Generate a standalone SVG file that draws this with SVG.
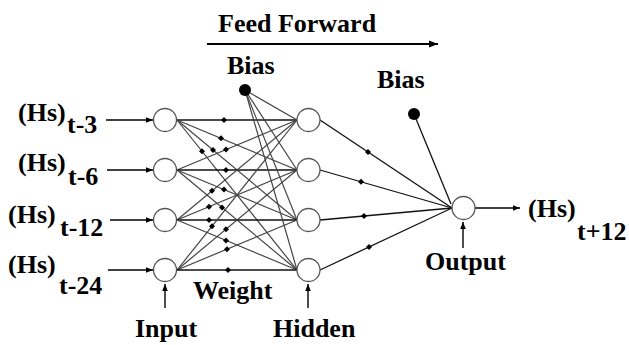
<svg xmlns="http://www.w3.org/2000/svg" xmlns:xlink="http://www.w3.org/1999/xlink" width="629" height="345" viewBox="0 0 629 345">
<style>
text{font-family:'Liberation Serif','Times New Roman','DejaVu Serif',serif;font-weight:bold;font-size:26px;fill:#000}
.node{fill:#fff;stroke:#555;stroke-width:1.3}
.w{stroke:#444;stroke-width:1.2;fill:none}
.h{stroke:#111;stroke-width:1.3;fill:none}
.arr{stroke:#000;stroke-width:1.4;fill:none;marker-end:url(#ah)}
</style>
<defs>
<marker id="ah" viewBox="0 0 10 10" refX="10" refY="5" markerWidth="7" markerHeight="7" markerUnits="userSpaceOnUse" orient="auto"><path d="M0,1 L10,5 L0,9Z" fill="#000"/></marker>
<marker id="ah2" viewBox="0 0 10 10" refX="10" refY="5" markerWidth="9" markerHeight="9" markerUnits="userSpaceOnUse" orient="auto"><path d="M0,1 L10,5 L0,9Z" fill="#000"/></marker>
<path id="d" d="M0,-3 L3,0 L0,3 L-3,0Z" fill="#000"/>
</defs>
<rect width="629" height="345" fill="#fff"/>

<g id="connectors">
<line x1="207" y1="44" x2="438" y2="44" stroke="#000" stroke-width="2" marker-end="url(#ah2)"/>
<line class="arr" x1="106" y1="120" x2="153" y2="120"/>
<line class="arr" x1="107" y1="170" x2="153" y2="170"/>
<line class="arr" x1="110" y1="220" x2="153" y2="220"/>
<line class="arr" x1="108" y1="270" x2="153" y2="270"/>
<line class="arr" x1="165" y1="308" x2="165" y2="284"/>
<line class="arr" x1="308" y1="308" x2="308" y2="284"/>
<line class="arr" x1="463" y1="248" x2="463" y2="222"/>
<line class="arr" x1="475" y1="208" x2="520" y2="208"/>
<line class="h" x1="177" y1="120" x2="297" y2="120"/>
<line class="w" x1="177" y1="120" x2="297" y2="170"/>
<line class="w" x1="177" y1="120" x2="297" y2="220"/>
<line class="w" x1="177" y1="120" x2="297" y2="270"/>
<line class="w" x1="177" y1="170" x2="297" y2="120"/>
<line class="h" x1="177" y1="170" x2="297" y2="170"/>
<line class="w" x1="177" y1="170" x2="297" y2="220"/>
<line class="w" x1="177" y1="170" x2="297" y2="270"/>
<line class="w" x1="177" y1="220" x2="297" y2="120"/>
<line class="w" x1="177" y1="220" x2="297" y2="170"/>
<line class="h" x1="177" y1="220" x2="297" y2="220"/>
<line class="w" x1="177" y1="220" x2="297" y2="270"/>
<line class="w" x1="177" y1="270" x2="297" y2="120"/>
<line class="w" x1="177" y1="270" x2="297" y2="170"/>
<line class="w" x1="177" y1="270" x2="297" y2="220"/>
<line class="h" x1="177" y1="270" x2="297" y2="270"/>
<line class="w" x1="245" y1="90" x2="297" y2="120"/>
<line class="w" x1="245" y1="90" x2="297" y2="170"/>
<line class="w" x1="245" y1="90" x2="297" y2="220"/>
<line class="w" x1="245" y1="90" x2="297" y2="270"/>
<line class="h" x1="320" y1="120" x2="452" y2="208"/>
<line class="h" x1="320" y1="170" x2="452" y2="208"/>
<line class="h" x1="320" y1="220" x2="452" y2="208"/>
<line class="h" x1="320" y1="270" x2="452" y2="208"/>
<line class="h" x1="414" y1="114" x2="451" y2="204"/>
<use xlink:href="#d" x="224" y="120"/>
<use xlink:href="#d" x="221" y="138.3"/>
<use xlink:href="#d" x="213" y="150"/>
<use xlink:href="#d" x="202" y="151.2"/>
<use xlink:href="#d" x="226" y="149.6"/>
<use xlink:href="#d" x="226" y="170"/>
<use xlink:href="#d" x="224" y="189.6"/>
<use xlink:href="#d" x="222" y="207.5"/>
<use xlink:href="#d" x="212" y="190.8"/>
<use xlink:href="#d" x="209" y="206.7"/>
<use xlink:href="#d" x="209" y="220"/>
<use xlink:href="#d" x="226" y="240.4"/>
<use xlink:href="#d" x="212" y="226.2"/>
<use xlink:href="#d" x="226" y="229.2"/>
<use xlink:href="#d" x="227" y="249.2"/>
<use xlink:href="#d" x="228" y="270"/>
<use xlink:href="#d" x="368" y="152"/>
<use xlink:href="#d" x="361" y="181.8"/>
<use xlink:href="#d" x="364" y="216"/>
<use xlink:href="#d" x="369" y="247"/>
</g>

<g id="bias1"><circle cx="245" cy="90" r="6" fill="#000"/><text x="227" y="74">Bias</text></g>
<g id="bias2"><circle cx="414" cy="114" r="6" fill="#000"/><text x="377" y="88">Bias</text></g>

<g id="in1"><circle class="node" cx="165" cy="120" r="11.5"/></g>
<g id="in2"><circle class="node" cx="165" cy="170" r="11.5"/></g>
<g id="in3"><circle class="node" cx="165" cy="220" r="11.5"/></g>
<g id="in4"><circle class="node" cx="165" cy="270" r="11.5"/></g>
<g id="h1"><circle class="node" cx="308.5" cy="120" r="11.5"/></g>
<g id="h2"><circle class="node" cx="308.5" cy="170" r="11.5"/></g>
<g id="h3"><circle class="node" cx="308.5" cy="220" r="11.5"/></g>
<g id="h4"><circle class="node" cx="308.5" cy="270" r="11.5"/></g>
<g id="out"><circle class="node" cx="463.5" cy="208" r="11.5"/></g>

<g id="labels">
<text x="218" y="32">Feed Forward</text>
<text x="18" y="121">(Hs)</text><text x="67" y="133">t-3</text>
<text x="18" y="171">(Hs)</text><text x="68" y="185">t-6</text>
<text x="8" y="223">(Hs)</text><text x="60" y="236">t-12</text>
<text x="8" y="273">(Hs)</text><text x="59" y="294">t-24</text>
<text x="528" y="217">(Hs)</text><text x="577" y="240">t+12</text>
<text x="193" y="299">Weight</text>
<text x="135" y="337">Input</text>
<text x="273" y="337">Hidden</text>
<text x="425" y="270">Output</text>
</g>
</svg>
